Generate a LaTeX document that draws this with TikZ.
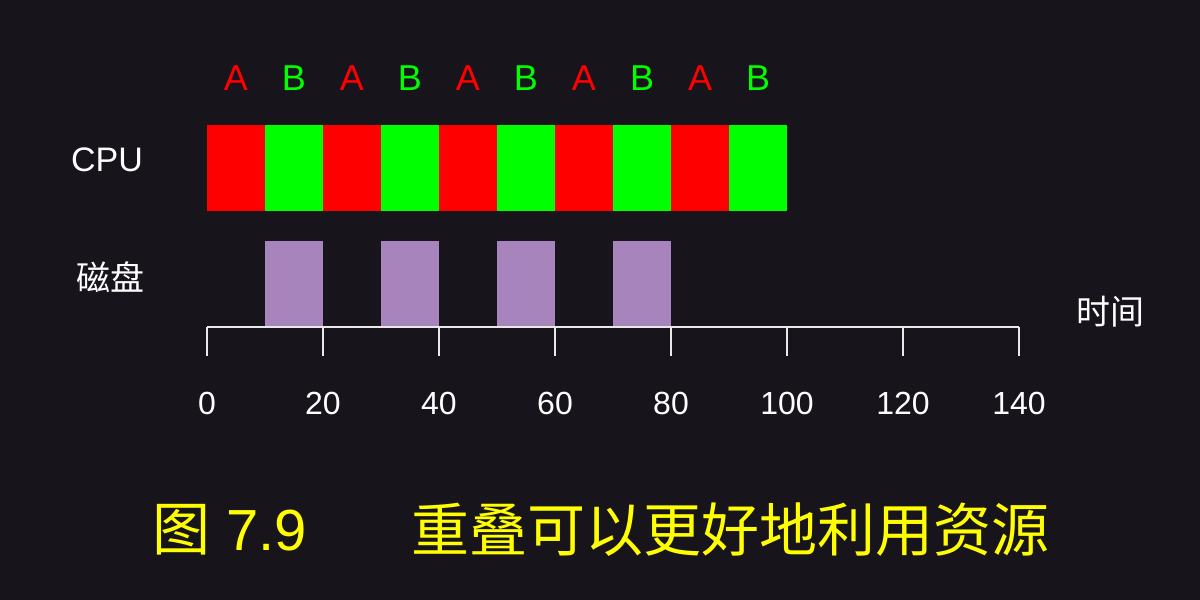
\documentclass[tikz,border=0pt]{standalone}
\usepackage{fontspec}
\setmainfont{Liberation Sans}
\newfontfamily\cjk{Noto Sans CJK SC}
\definecolor{bg}{HTML}{17141C}
\definecolor{procA}{HTML}{FF0000}
\definecolor{procB}{HTML}{00FF00}
\definecolor{diskc}{HTML}{A784BC}
\definecolor{axisc}{HTML}{E8E8E8}
\definecolor{titlec}{HTML}{FFFF00}
\tikzset{
  lbl/.style={text=white,font=\fontsize{17}{20}\selectfont},
  numlbl/.style={text=white,font=\fontsize{16}{19}\selectfont},
  slotlbl/.style={font=\fontsize{18}{21}\selectfont},
  ttl/.style={text=titlec,font=\fontsize{29}{34}\selectfont,anchor=west}
}

\begin{document}
\begin{tikzpicture}[x=0.5pt,y=-0.5pt]
    \fill[bg] (0,0) rectangle (1200,600);
    % cpu time slices
    \foreach \i in {0,2,...,8} {
        \fill[procA] ({207+58*\i},125) rectangle ({265+58*\i},211);
        \node[slotlbl,text=procA] (sa\i) at ({236+58*\i},78) {A};
    }
    \foreach \i in {1,3,...,9} {
        \fill[procB] ({207+58*\i},125) rectangle ({265+58*\i},211);
        \node[slotlbl,text=procB] (sb\i) at ({236+58*\i},78) {B};
    }
    % disk busy
    \foreach \i in {1,3,5,7}
        \fill[diskc] ({207+58*\i},241) rectangle ({265+58*\i},327);
    % time axis
    \draw[axisc,line width=1.1pt] (207,327) -- (1019,327);
    \foreach \t [count=\k from 0] in {0,20,...,140} {
        \draw[axisc,line width=1.1pt] ({207+116*\k},327) -- ({207+116*\k},356);
        \node[numlbl] (n\k) at ({207+116*\k},403) {\t};
    }
    \node[lbl] (cpu) at (107,160) {CPU};
    \node[lbl] (disk) at (110,277) {\cjk 磁盘};
    \node[lbl] (time) at (1110,312) {\cjk 时间};
    % caption
    \node[ttl] (fig) at (145,530) {{\cjk 图} 7.9};
    \node[ttl] (cap) at (404,530) {\cjk 重叠可以更好地利用资源};
\end{tikzpicture}
\end{document}
